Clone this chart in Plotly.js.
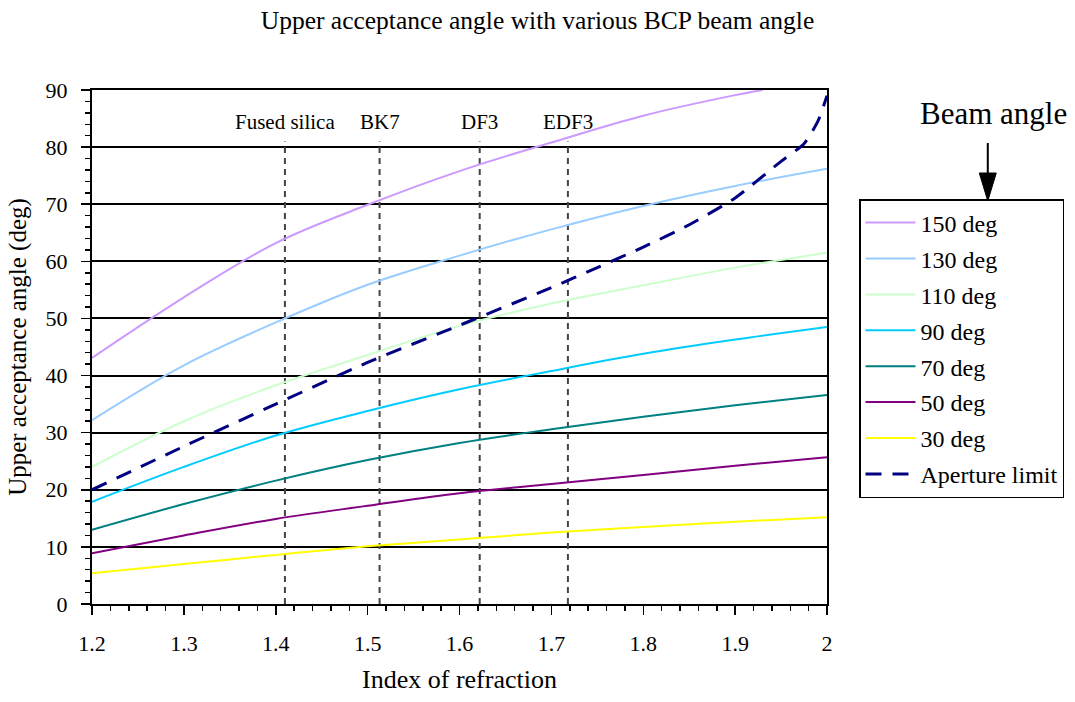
<!DOCTYPE html>
<html>
<head>
<meta charset="utf-8">
<script src="https://cdn.plot.ly/plotly-3.0.1.min.js"></script>
<style>
  html, body { margin: 0; padding: 0; background: #ffffff; }
  #chart { width: 1075px; height: 702px; }
</style>
</head>
<body>
<div id="chart"></div>
<script>
// Refractive index axis samples
const nIndex = [1.2, 1.3, 1.4, 1.5, 1.6, 1.7, 1.8, 1.9, 2.0];
const nIndex150 = [1.2, 1.3, 1.4, 1.5, 1.6, 1.7, 1.8, 1.9, 1.93];
const nAperture = [1.2, 1.3, 1.4, 1.5, 1.6, 1.7, 1.75, 1.8, 1.85, 1.9, 1.95, 1.975, 1.99, 2.0];

// Upper acceptance angle (deg) for each BCP beam angle
const beam150 = [43.1, 53.7, 63.2, 69.9, 75.8, 80.8, 85.5, 89.1, 90.0];
const beam130 = [32.2, 41.8, 49.3, 55.9, 61.0, 65.6, 69.7, 73.2, 76.2];
const beam110 = [24.0, 32.0, 38.3, 43.6, 48.7, 52.6, 55.8, 58.9, 61.5];
const beam90  = [17.9, 24.0, 29.5, 33.8, 37.6, 40.8, 43.8, 46.3, 48.5];
const beam70  = [13.0, 17.5, 21.6, 25.2, 28.2, 30.6, 32.8, 34.8, 36.6];
const beam50  = [8.9, 12.0, 14.9, 17.2, 19.4, 21.0, 22.6, 24.2, 25.7];
const beam30  = [5.4, 7.0, 8.6, 10.1, 11.3, 12.5, 13.5, 14.4, 15.2];
const aperture = [20.0, 27.6, 35.0, 42.3, 48.8, 55.4, 58.9, 62.5, 66.4, 71.1, 77.5, 80.6, 84.5, 89.0];

const seriesNames = ['150 deg', '130 deg', '110 deg', '90 deg', '70 deg', '50 deg', '30 deg'];
const seriesColors = ['#CC99FF', '#99CCFF', '#CCFFCC', '#00CCFF', '#008080', '#800080', '#FFFF00'];

// Reference glasses
const glassNames = ['Fused silica', 'BK7', 'DF3', 'EDF3'];
const glassIndex = [1.41, 1.513, 1.622, 1.718];
const glassLineTop = 81;
const glassLabelY = 84.4;

const FONT = 'Liberation Serif, Times New Roman, serif';

const traces = [];

// dashed markers for each glass
glassIndex.forEach(function (n) {
  traces.push({
    x: [n, n], y: [0, glassLineTop],
    mode: 'lines', showlegend: false, hoverinfo: 'skip',
    line: { color: '#444444', width: 2, dash: '6px,5px' }
  });
});

const beamX = [nIndex150, nIndex, nIndex, nIndex, nIndex, nIndex, nIndex];
const beamY = [beam150, beam130, beam110, beam90, beam70, beam50, beam30];
beamY.forEach(function (ys, i) {
  traces.push({
    x: beamX[i], y: ys, name: seriesNames[i], legendgroup: 'g' + i,
    mode: 'lines', line: { color: seriesColors[i], width: 2, shape: 'spline', smoothing: 1 }
  });
});

traces.push({
  x: nAperture, y: aperture, name: 'Aperture limit', legendgroup: 'g7',
  mode: 'lines', line: { color: '#000080', width: 3, dash: '16px,11px', shape: 'spline', smoothing: 0.6 }
});

// pixel -> paper helpers for the decorations outside the plot area
const PL = 92, PR = 828, PT = 90, PB = 604;
function px(x) { return (x - PL) / (PR - PL); }
function py(y) { return (PB - y) / (PB - PT); }

const annotations = glassNames.map(function (name, i) {
  return {
    x: glassIndex[i], y: glassLabelY, xref: 'x', yref: 'y',
    text: name, showarrow: false, xanchor: 'center', yanchor: 'middle',
    font: { family: FONT, size: 21, color: '#000000' }
  };
});
annotations.push({
  x: px(995), y: py(114), xref: 'paper', yref: 'paper',
  text: 'Beam angle', showarrow: false, xanchor: 'center', yanchor: 'middle',
  font: { family: FONT, size: 31, color: '#000000' }
});

const shapes = [
  { type: 'line', xref: 'paper', yref: 'paper', x0: px(989), x1: px(989), y0: py(143), y1: py(176),
    line: { color: '#000000', width: 2 } },
  { type: 'path', xref: 'paper', yref: 'paper',
    path: 'M ' + px(980.5) + ' ' + py(173) + ' L ' + px(997.5) + ' ' + py(173) + ' L ' + px(989) + ' ' + py(201) + ' Z',
    fillcolor: '#000000', line: { color: '#000000', width: 1 } }
];

const layout = {
  width: 1075, height: 702,
  margin: { l: PL, r: 1075 - PR, t: PT, b: 702 - PB, pad: 0 },
  paper_bgcolor: '#ffffff', plot_bgcolor: '#ffffff',
  font: { family: FONT, color: '#000000' },
  title: {
    text: 'Upper acceptance angle with various BCP beam angle',
    xref: 'container', x: 0.5, xanchor: 'center',
    yref: 'container', y: 1 - 20 / 702, yanchor: 'middle',
    font: { family: FONT, size: 25.5, color: '#000000' }
  },
  xaxis: {
    range: [1.2, 2.0], dtick: 0.1, tick0: 1.2,
    showgrid: false, zeroline: false,
    showline: true, mirror: true, linecolor: '#000000', linewidth: 2,
    ticks: 'outside', ticklen: 9, tickwidth: 1.5, tickcolor: '#000000',
    ticklabelstandoff: 10,
    minor: { dtick: 0.02, ticks: 'outside', ticklen: 5, tickwidth: 1.5, tickcolor: '#000000', showgrid: false },
    tickfont: { family: FONT, size: 22, color: '#000000' },
    title: { text: 'Index of refraction', standoff: 14, font: { family: FONT, size: 26, color: '#000000' } }
  },
  yaxis: {
    range: [0, 90], dtick: 10, tick0: 0,
    showgrid: true, gridcolor: '#000000', gridwidth: 2,
    zeroline: false,
    showline: true, mirror: true, linecolor: '#000000', linewidth: 2,
    ticks: 'outside', ticklen: 9, tickwidth: 1.5, tickcolor: '#000000',
    ticklabelstandoff: 9,
    minor: { dtick: 2, ticks: 'outside', ticklen: 5, tickwidth: 1.5, tickcolor: '#000000', showgrid: false },
    tickfont: { family: FONT, size: 22, color: '#000000' },
    title: { text: 'Upper acceptance angle (deg)', standoff: 12, font: { family: FONT, size: 25, color: '#000000' } }
  },
  legend: {
    x: px(859), y: py(199), xanchor: 'left', yanchor: 'top',
    bgcolor: '#ffffff', bordercolor: '#000000', borderwidth: 1.5,
    font: { family: FONT, size: 24, color: '#000000' },
    traceorder: 'grouped', tracegroupgap: 1.7, itemwidth: 50
  },
  annotations: annotations,
  shapes: shapes,
  showlegend: true
};

Plotly.newPlot('chart', traces, layout, { displayModeBar: false, staticPlot: true });
</script>
</body>
</html>
